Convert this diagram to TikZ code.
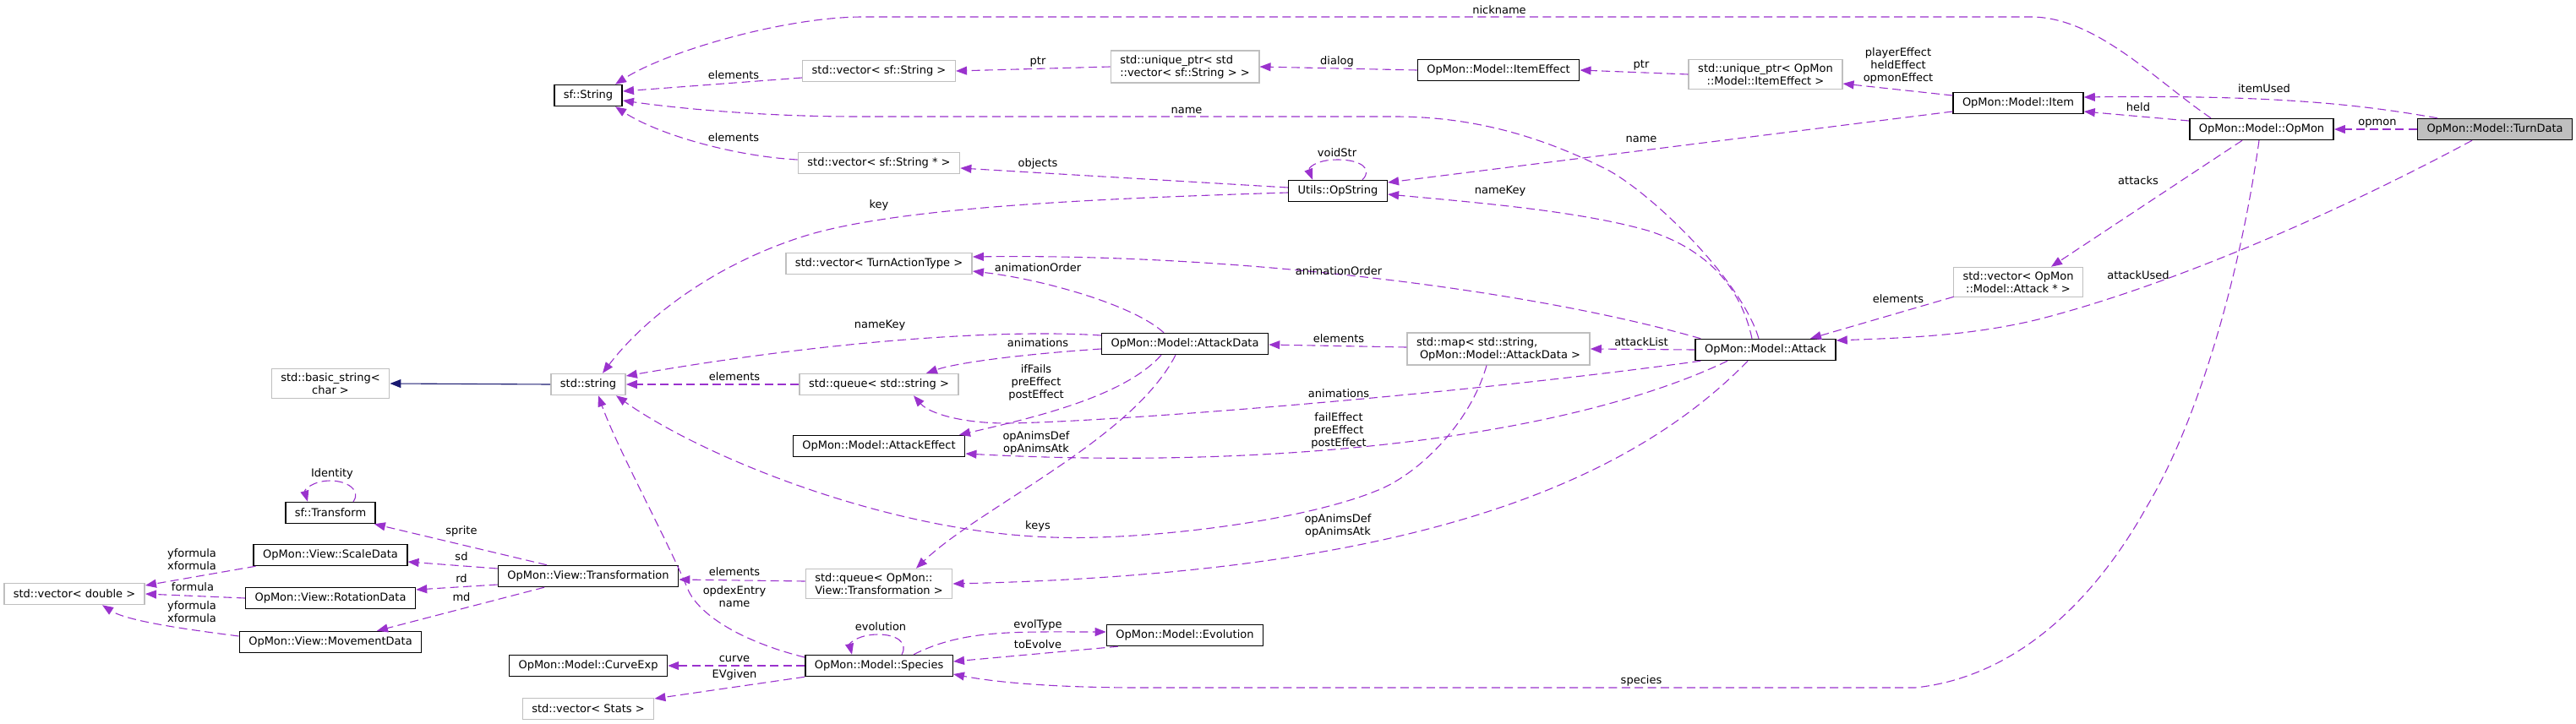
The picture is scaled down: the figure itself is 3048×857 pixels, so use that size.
\documentclass[tikz,border=0pt]{standalone}
\usepackage{fontspec}
\setmainfont{DejaVu Sans}
\usetikzlibrary{arrows.meta,calc}
\definecolor{orch}{HTML}{9A32CD}
\definecolor{gr}{HTML}{BFBFBF}
\definecolor{mblue}{HTML}{191970}
\newcommand\dxf{\fontsize{6.5pt}{7.5pt}\selectfont}
\tikzset{
 cls/.style={draw=black, line width=0.75pt, fill=white, font=\dxf, inner xsep=5.5pt, inner ysep=2.5pt, minimum height=12.5pt, align=center},
 ext/.style={cls, draw=gr},
 cur/.style={cls, fill=gr},
 dep/.style={draw=orch, line width=0.55pt, dash pattern=on 5pt off 2.7pt, -{Triangle[length=6.5pt,width=5pt]}},
 inh/.style={draw=mblue, line width=0.55pt, -{Triangle[length=6.5pt,width=5pt]}},
 lab/.style={font=\dxf, inner sep=0pt, align=center, text=black}
}
\begin{document}
\begin{tikzpicture}[x=0.5pt,y=-0.5pt]
\useasboundingbox (0,0) rectangle (3048,857);
% classes
\node[cls] (sfString) at (696,113) {sf::String};
\node[ext] (vecSfString) at (1040,84) {std::vector< sf::String >};
\node[ext, align=left] (uptrVec) at (1402,79) {std::unique\_ptr< std\\::vector< sf::String > >};
\node[cls] (ItemEffect) at (1773,83) {OpMon::Model::ItemEffect};
\node[ext] (uptrItemEffect) at (2089,88) {std::unique\_ptr< OpMon\\::Model::ItemEffect >};
\node[cls] (Item) at (2388,122) {OpMon::Model::Item};
\node[cls] (OpMon) at (2676,153) {OpMon::Model::OpMon};
\node[cur] (TurnData) at (2952,153) {OpMon::Model::TurnData};
\node[ext] (vecSfStringPtr) at (1040,193) {std::vector< sf::String * >};
\node[cls] (OpString) at (1583,226) {Utils::OpString};
\node[ext] (vecTurnAction) at (1040,312) {std::vector< TurnActionType >};
\node[cls] (AttackData) at (1402,407) {OpMon::Model::AttackData};
\node[ext, align=left] (map) at (1773,413) {std::map< std::string,\\\kern2pt OpMon::Model::AttackData >};
\node[cls] (Attack) at (2089,414) {OpMon::Model::Attack};
\node[ext] (vecAttack) at (2388,334) {std::vector< OpMon\\::Model::Attack * >};
\node[ext] (basicString) at (391,454) {std::basic\_string<\\char >};
\node[ext] (stdString) at (696,455) {std::string};
\node[ext] (queueString) at (1040,455) {std::queue< std::string >};
\node[cls] (AttackEffect) at (1040,528) {OpMon::Model::AttackEffect};
\node[cls] (sfTransform) at (391,607) {sf::Transform};
\node[cls] (ScaleData) at (391,657) {OpMon::View::ScaleData};
\node[cls] (Transformation) at (696,682) {OpMon::View::Transformation};
\node[ext, align=left] (queueTrans) at (1040,691) {std::queue< OpMon::\\View::Transformation >};
\node[ext] (vecDouble) at (88,703) {std::vector< double >};
\node[cls] (RotationData) at (391,708) {OpMon::View::RotationData};
\node[cls] (MovementData) at (391,760) {OpMon::View::MovementData};
\node[cls] (CurveExp) at (696,788) {OpMon::Model::CurveExp};
\node[cls] (Species) at (1040,788) {OpMon::Model::Species};
\node[cls] (Evolution) at (1402,752) {OpMon::Model::Evolution};
\node[ext] (vecStats) at (696,839) {std::vector< Stats >};
% edges
\draw[dep] ($(OpMon.north)+(-60,0)$) .. controls (2550,95) and (2480,20) .. (2403,20) -- (1021,20) .. controls (930,20) and (790,60) .. ($(sfString.north)+(32,0)$);
\draw[dep] ($(vecSfString.west)+(0,8)$) -- ($(sfString.east)+(0,-5)$);
\draw[dep] (uptrVec.west) -- (vecSfString.east);
\draw[dep] (ItemEffect.west) -- (uptrVec.east);
\draw[dep] (uptrItemEffect.west) -- (ItemEffect.east);
\draw[dep] ($(Item.west)+(0,-9)$) -- ($(uptrItemEffect.east)+(0,11)$);
\draw[dep] ($(TurnData.north)+(-68,0)$) .. controls (2800,125) and (2700,112) .. ($(Item.east)+(0,-7)$);
\draw[dep] ($(OpMon.west)+(0,-10)$) -- ($(Item.east)+(0,10)$);
\draw[dep] (TurnData.west) -- (OpMon.east);
\draw[dep] ($(Attack.north)+(-8,0)$) .. controls (2060,330) and (1950,225) .. (1900,200) .. controls (1830,165) and (1750,138) .. (1650,138) -- (1015,138) .. controls (900,138) and (800,128) .. ($(sfString.east)+(0,6)$);
\draw[dep] ($(Item.west)+(0,10)$) -- ($(OpString.east)+(0,-10)$);
\draw[dep] ($(vecSfStringPtr.west)+(0,-4)$) .. controls (870,185) and (780,160) .. ($(sfString.south)+(32,0)$);
\draw[dep] ($(OpString.west)+(0,-4)$) -- ($(vecSfStringPtr.east)+(0,6)$);
\draw[dep] ($(OpString.north)+(29,0)$) .. controls (1625,200) and (1610,189) .. (1583,189) .. controls (1555,189) and (1548,200) .. ($(OpString.north)+(-30,0)$);
\draw[dep] ($(OpString.west)+(0,2)$) .. controls (1300,235) and (1060,245) .. (950,280) .. controls (840,315) and (760,380) .. ($(stdString.north)+(17,0)$);
\draw[dep] ($(Attack.north)+(-16,0)$) .. controls (2060,340) and (2020,295) .. (1950,273) .. controls (1870,250) and (1750,240) .. ($(OpString.east)+(0,4)$);
\draw[dep] ($(OpMon.south)+(-23,0)$) -- ($(vecAttack.north)+(39,0)$);
\draw[dep] ($(vecAttack.south west)+(1,-1)$) -- ($(Attack.north)+(53,0)$);
\draw[dep] ($(TurnData.south)+(-27,0)$) .. controls (2750,260) and (2560,340) .. (2412,378) .. controls (2330,398) and (2250,400) .. ($(Attack.east)+(0,-11)$);
\draw[dep] ($(Attack.north west)+(7,0)$) .. controls (1800,340) and (1450,300) .. ($(vecTurnAction.east)+(0,-8)$);
\draw[dep] ($(AttackData.north)+(-25,0)$) .. controls (1340,360) and (1230,330) .. ($(vecTurnAction.east)+(0,9)$);
\draw[dep] ($(map.west)+(0,-2)$) -- ($(AttackData.east)+(0,1)$);
\draw[dep] (Attack.west) -- (map.east);
\draw[dep] ($(AttackData.west)+(0,-10)$) .. controls (1200,390) and (1000,400) .. ($(stdString.east)+(0,-10)$);
\draw[dep] ($(AttackData.west)+(0,6)$) .. controls (1200,420) and (1130,430) .. ($(queueString.north)+(56,0)$);
\draw[dep] ($(Attack.south west)+(7,0)$) .. controls (1700,470) and (1300,500) .. (1191,501) .. controls (1140,501) and (1100,490) .. ($(queueString.south)+(41,0)$);
\draw[dep] ($(AttackData.south)+(-28,0)$) .. controls (1330,470) and (1220,495) .. ($(AttackEffect.north)+(95,0)$);
\draw[dep] ($(Attack.south)+(-45,0)$) .. controls (1850,520) and (1500,556) .. ($(AttackEffect.east)+(0,9)$);
\draw[dep] ($(AttackData.south)+(-11,0)$) .. controls (1340,520) and (1160,600) .. ($(queueTrans.north)+(44,0)$);
\draw[dep] ($(Attack.south)+(-21,0)$) .. controls (1900,600) and (1600,680) .. (queueTrans.east);
\draw[dep] ($(map.south)+(-14,0)$) .. controls (1740,500) and (1680,560) .. (1631,580) .. controls (1540,618) and (1350,640) .. (1245,636) .. controls (1050,630) and (830,540) .. ($(stdString.south)+(33,0)$);
\draw[dep] (queueString.west) -- (stdString.east);
\draw[inh] (stdString.west) -- (basicString.east);
\draw[dep] ($(queueTrans.west)+(0,-3)$) -- ($(Transformation.east)+(0,4)$);
\draw[dep] ($(Transformation.north)+(-49,0)$) -- ($(sfTransform.south east)+(-2,0)$);
\draw[dep] ($(sfTransform.north)+(27,0)$) .. controls (428,580) and (410,569) .. (391,569) .. controls (370,569) and (360,580) .. ($(sfTransform.north)+(-27,0)$);
\draw[dep] ($(Transformation.west)+(0,-9)$) -- ($(ScaleData.east)+(0,8)$);
\draw[dep] ($(Transformation.west)+(0,10)$) -- ($(RotationData.east)+(0,-10)$);
\draw[dep] ($(Transformation.south)+(-52,0)$) -- ($(MovementData.north)+(55,0)$);
\draw[dep] ($(ScaleData.south west)+(3,0)$) -- ($(vecDouble.east)+(0,-10)$);
\draw[dep] (RotationData.west) -- (vecDouble.east);
\draw[dep] ($(MovementData.west)+(0,-7)$) .. controls (220,745) and (150,735) .. ($(vecDouble.south)+(33,0)$);
\draw[dep] ($(Species.west)+(0,-10)$) .. controls (880,760) and (830,730) .. (815,700) .. controls (790,640) and (730,530) .. ($(stdString.south)+(12,0)$);
\draw[dep] ($(Species.north)+(27,0)$) .. controls (1075,760) and (1060,751) .. (1039,751) .. controls (1015,751) and (1005,762) .. ($(Species.north)+(-32,0)$);
\draw[dep] ($(Species.north)+(41,0)$) .. controls (1140,745) and (1200,748) .. ($(Evolution.west)+(0,-4)$);
\draw[dep] ($(Evolution.south west)+(14,0)$) -- ($(Species.east)+(0,-5)$);
\draw[dep] (Species.west) -- (CurveExp.east);
\draw[dep] (Species.south west) -- ($(vecStats.east)+(0,-12)$);
\draw[dep] ($(OpMon.south)+(-3,0)$) .. controls (2650,330) and (2600,500) .. (2540,600) .. controls (2490,690) and (2400,800) .. (2266,814) -- (1351,814) .. controls (1250,814) and (1180,808) .. ($(Species.east)+(0,10)$);
% labels
\node[lab] (l1) at (1774,12) {nickname};
\node[lab] (l2) at (868,89) {elements};
\node[lab] (l3) at (1228,73) {ptr};
\node[lab] (l4) at (1582,73) {dialog};
\node[lab] (l5) at (1942,77) {ptr};
\node[lab] (l6) at (2246,78) {playerEffect\\heldEffect\\opmonEffect};
\node[lab] (l7) at (2679,105) {itemUsed};
\node[lab] (l8) at (2530,127) {held};
\node[lab] (l9) at (2813,146) {opmon};
\node[lab] (l10) at (1404,131) {name};
\node[lab] (l11) at (1942,165) {name};
\node[lab] (l12) at (868,163) {elements};
\node[lab] (l13) at (1228,194) {objects};
\node[lab] (l14) at (1582,181) {voidStr};
\node[lab] (l15) at (1040,243) {key};
\node[lab] (l16) at (1775,226) {nameKey};
\node[lab] (l17) at (2530,214) {attacks};
\node[lab] (l18) at (2246,354) {elements};
\node[lab] (l19) at (2530,326) {attackUsed};
\node[lab] (l20) at (1228,317) {animationOrder};
\node[lab] (l21) at (1584,321) {animationOrder};
\node[lab] (l22) at (1584,401) {elements};
\node[lab] (l23) at (1942,405) {attackList};
\node[lab] (l24) at (1041,385) {nameKey};
\node[lab] (l25) at (1228,406) {animations};
\node[lab] (l26) at (1226,453) {ifFails\\preEffect\\postEffect};
\node[lab] (l27) at (1584,466) {animations};
\node[lab] (l28) at (1584,510) {failEffect\\preEffect\\postEffect};
\node[lab] (l29) at (1226,524) {opAnimsDef\\opAnimsAtk};
\node[lab] (l30) at (869,446) {elements};
\node[lab] (l31) at (1228,623) {keys};
\node[lab] (l32) at (1583,622) {opAnimsDef\\opAnimsAtk};
\node[lab] (l33) at (393,561) {Identity};
\node[lab] (l34) at (546,629) {sprite};
\node[lab] (l35) at (546,659) {sd};
\node[lab] (l36) at (546,685) {rd};
\node[lab] (l37) at (546,707) {md};
\node[lab] (l38) at (227,662) {yformula\\xformula};
\node[lab] (l39) at (228,695) {formula};
\node[lab] (l40) at (227,724) {yformula\\xformula};
\node[lab] (l41) at (869,677) {elements};
\node[lab] (l42) at (869,706) {opdexEntry\\name};
\node[lab] (l43) at (1042,742) {evolution};
\node[lab] (l44) at (1228,740) {evolType};
\node[lab] (l45) at (1228,763) {toEvolve};
\node[lab] (l46) at (869,780) {curve};
\node[lab] (l47) at (869,799) {EVgiven};
\node[lab] (l48) at (1942,806) {species};
\end{tikzpicture}
\end{document}
